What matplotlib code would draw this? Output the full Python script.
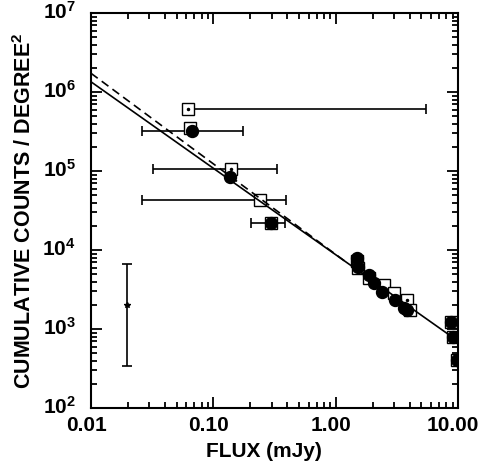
import math
import matplotlib
matplotlib.use("Agg")
import matplotlib.pyplot as plt
import matplotlib.transforms as mtransforms
from matplotlib.ticker import LogLocator, FuncFormatter, NullFormatter

plt.rcParams['font.family'] = ['Liberation Sans', 'DejaVu Sans']
plt.rcParams['font.weight'] = 'bold'
plt.rcParams['mathtext.fontset'] = 'custom'
plt.rcParams['mathtext.rm'] = 'Liberation Sans:bold'
plt.rcParams['mathtext.bf'] = 'Liberation Sans:bold'

# filled circles
circ_x = [0.067, 0.137, 0.296, 1.49, 1.53, 1.85, 2.03, 2.38, 3.06, 3.58, 3.81, 8.73, 9.1, 9.85]
circ_y = [3.2e5, 8.47e4, 2.2e4, 7850, 6150, 4830, 3790, 2970, 2330, 1830, 1740, 1236, 800, 405]

# open squares
sq_x = [0.062, 0.0645, 0.14, 0.238, 0.296, 1.49, 1.53, 1.85, 2.46, 2.96, 3.81, 4.06, 8.73, 9.1, 9.85]
sq_y = [6.04e5, 3.47e5, 1.06e5, 4.3e4, 2.2e4, 7300, 5870, 4390, 3610, 2830, 2330, 1740, 1236, 800, 405]

# horizontal error bars: centre, lower, upper flux
eb_x = [0.062, 0.067, 0.14, 0.238, 0.296]
eb_y = [6.04e5, 3.2e5, 1.06e5, 4.3e4, 2.2e4]
eb_lo = [0.062, 0.0263, 0.0319, 0.0263, 0.201]
eb_hi = [5.48, 0.175, 0.332, 0.393, 0.384]

# points marked with a small dot
dot_x = [0.062, 0.14, 3.81]
dot_y = [6.04e5, 1.06e5, 2330]

# representative vertical error bar
ver_x = [0.0196]
ver_y = [2010]
ver_lo = [340]
ver_hi = [6650]

# fitted lines
solid_x = [0.01, 10.0]
solid_y = [1.35e6, 700]
dash_x = [0.01, 1.24]
dash_y = [1.73e6, 6870]

fig = plt.figure(figsize=(4.82, 4.68), dpi=100)
ax = fig.add_axes([0.1888, 0.128, 0.762, 0.844])

xerr = [[c - l for c, l in zip(eb_x, eb_lo)], [h - c for c, h in zip(eb_x, eb_hi)]]
ax.errorbar(eb_x, eb_y, xerr=xerr, fmt='none', ecolor='black', elinewidth=1.2,
            capsize=3.5, capthick=1.2, zorder=1)
yerr = [[c - l for c, l in zip(ver_y, ver_lo)], [h - c for c, h in zip(ver_y, ver_hi)]]
ax.errorbar(ver_x, ver_y, yerr=yerr, fmt='*', color='black', ms=4, elinewidth=1.2,
            capsize=3.5, capthick=1.2, zorder=1)

ax.plot(sq_x, sq_y, 's', ms=8.6, mfc='white', mec='black', mew=1.0, zorder=2)
ax.plot(solid_x, solid_y, '-', color='black', lw=1.2, zorder=3)
ax.plot(dash_x, dash_y, '--', color='black', lw=1.2, dashes=(5, 3), zorder=3)
ax.plot(circ_x, circ_y, 'o', ms=8.6, color='black', zorder=4)
ax.plot(dot_x, dot_y, '.', ms=3, color='black', zorder=5)

ax.set_xscale('log')
ax.set_yscale('log')
ax.set_xlim(0.01, 10)
ax.set_ylim(1e2, 1e7)

ax.xaxis.set_major_locator(LogLocator(base=10))
ax.yaxis.set_major_locator(LogLocator(base=10))
ax.xaxis.set_minor_locator(LogLocator(base=10, subs=range(2, 10)))
ax.yaxis.set_minor_locator(LogLocator(base=10, subs=range(2, 10)))
ax.xaxis.set_minor_formatter(NullFormatter())
ax.yaxis.set_minor_formatter(NullFormatter())
ax.xaxis.set_major_formatter(FuncFormatter(lambda v, p: '%.2f' % v))
ax.yaxis.set_major_formatter(FuncFormatter(lambda v, p: r'$\mathbf{10^{%d}}$' % round(math.log10(v))))

ax.tick_params(which='both', direction='in', top=True, right=True, width=1.3,
               labelsize=15, color='black')
ax.tick_params(which='major', length=8)
ax.tick_params(which='minor', length=4.5)
ax.tick_params(axis='x', which='major', pad=6)
ax.tick_params(axis='y', which='major', pad=11)
for s in ax.spines.values():
    s.set_linewidth(1.5)

# x tick labels sit a little left of their ticks in the original
shift = mtransforms.ScaledTranslation(-5 / 100, 0, fig.dpi_scale_trans)
for lab in ax.get_xticklabels():
    lab.set_transform(lab.get_transform() + shift)
# y tick labels sit slightly above their ticks
yshift = mtransforms.ScaledTranslation(0, 3 / 100, fig.dpi_scale_trans)
for lab in ax.get_yticklabels():
    lab.set_transform(lab.get_transform() + yshift)

ax.set_xlabel('FLUX (mJy)', fontsize=15, fontweight='bold')
ax.xaxis.set_label_coords(0.471, -0.087)
ax.set_ylabel(r'CUMULATIVE COUNTS / DEGREE$^{\mathbf{2}}$', fontsize=15.5, fontweight='bold')
ax.yaxis.set_label_coords(-0.15, 0.5)

fig.savefig('out.png', dpi=100)
